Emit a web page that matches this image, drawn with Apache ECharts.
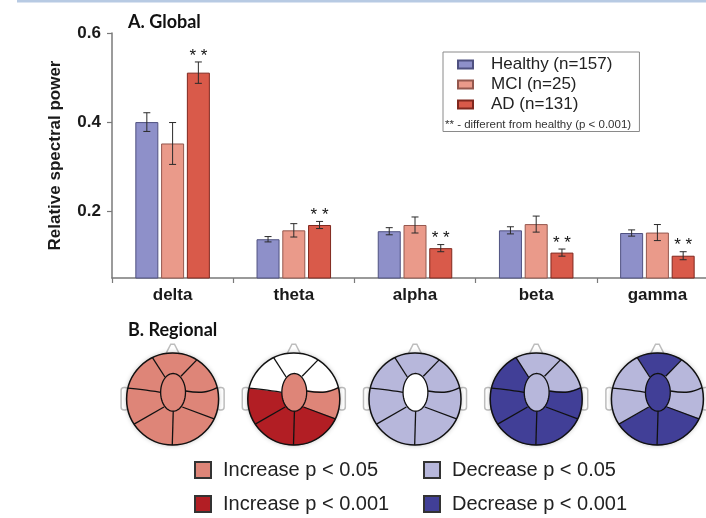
<!DOCTYPE html>
<html>
<head>
<meta charset="utf-8">
<script src="https://cdn.jsdelivr.net/npm/echarts@6/dist/echarts.min.js"></script>
<style>
  html, body { margin: 0; padding: 0; background: #ffffff; }
  #chart { width: 706px; height: 518px; }
</style>
</head>
<body>
<div id="chart"></div>
<script>
// ---------------- data ----------------
const bands = ['delta', 'theta', 'alpha', 'beta', 'gamma'];
const groupNames = ['Healthy (n=157)', 'MCI (n=25)', 'AD (n=131)'];
const healthy    = [0.400, 0.137, 0.155, 0.157, 0.151];
const healthyErr = [0.021, 0.006, 0.008, 0.008, 0.007];
const mci        = [0.352, 0.157, 0.169, 0.171, 0.152];
const mciErr     = [0.047, 0.015, 0.018, 0.018, 0.018];
const ad         = [0.511, 0.169, 0.117, 0.107, 0.100];
const adErr      = [0.024, 0.008, 0.008, 0.008, 0.009];
const adSig      = ['* *', '* *', '* *', '* *', '* *'];
const yTicks     = [0.2, 0.4, 0.6];

// regional significance, regions ordered:
// top, upperRight, right, lowerRight, lowerLeft, left, upperLeft, center
const regionNames = ['top', 'upperRight', 'right', 'lowerRight', 'lowerLeft', 'left', 'upperLeft', 'center'];
const regDelta = ['I1', 'I1', 'I1', 'I1', 'I1', 'I1', 'I1', 'I1'];
const regTheta = ['NS', 'NS', 'I1', 'I2', 'I2', 'I2', 'NS', 'I1'];
const regAlpha = ['D1', 'D1', 'D1', 'D1', 'D1', 'D1', 'D1', 'NS'];
const regBeta  = ['D1', 'D1', 'D2', 'D2', 'D2', 'D2', 'D2', 'D1'];
const regGamma = ['D2', 'D1', 'D1', 'D2', 'D2', 'D1', 'D1', 'D2'];
const sigNames = ['Increase p < 0.05', 'Increase p < 0.001', 'Decrease p < 0.05', 'Decrease p < 0.001'];
const sigCodes = ['I1', 'I2', 'D1', 'D2'];

// ---------------- styles ----------------
const groupColors  = ['#8e90c9', '#ea9a8a', '#d95a4a'];
const groupBorders = ['#4f5180', '#94584e', '#80281f'];
const sigColors = { I1: '#de8578', I2: '#b21e24', D1: '#b7b7db', D2: '#413f97', NS: '#ffffff' };
const FONT = 'Liberation Sans, Arial, sans-serif';
const BAR_W = 23;
const BAR_GAP = 0.12;

const regionalMaps = [regDelta, regTheta, regAlpha, regBeta, regGamma];
const groupVals = [healthy, mci, ad];
const groupErrs = [healthyErr, mciErr, adErr];

// ---------------- head geometry (unit circle, y down) ----------------
const ell = { cx: 0.01, cy: -0.145, rx: 0.27, ry: 0.41 };
const divLines = [
  [[-0.167, -0.478], [-0.438, -0.899]],                       // UL
  [[0.181, -0.493], [0.527, -0.850]],                         // UR
  [[0.283, -0.174], [0.681, -0.152], [0.969, -0.247]],        // R
  [[0.210, 0.174], [0.903, 0.430]],                           // LR
  [[0.014, 0.260], [-0.007, 1.0]],                            // B
  [[-0.188, 0.174], [-0.837, 0.547]],                         // LL
  [[-0.261, -0.145], [-0.659, -0.203], [-0.972, -0.235]]      // L
];
function angOf(p) { let a = Math.atan2(p[0], -p[1]) * 180 / Math.PI; if (a < 0) a += 360; return a; }

function headRender(params, api) {
  const idx = api.value(0);
  const c = api.coord([idx, 0]);
  const R = api.size([1, 1])[1];
  const map = regionalMaps[params.dataIndex];
  const P = (p) => [c[0] + p[0] * R, c[1] + p[1] * R];
  const children = [];
  // nose
  children.push({ type: 'polygon', shape: { points: [P([-0.15, -0.975]), P([-0.04, -1.19]), P([0.04, -1.19]), P([0.15, -0.975])] },
    style: { fill: '#fff', stroke: '#bdbdbd', lineWidth: 1.5 } });
  // ears
  children.push({ type: 'rect', shape: { x: c[0] - 1.12 * R, y: c[1] - 0.25 * R, width: 0.15 * R, height: 0.49 * R, r: 3 },
    style: { fill: '#fff', stroke: '#bdbdbd', lineWidth: 1.5 } });
  children.push({ type: 'rect', shape: { x: c[0] + 0.97 * R, y: c[1] - 0.25 * R, width: 0.15 * R, height: 0.49 * R, r: 3 },
    style: { fill: '#fff', stroke: '#bdbdbd', lineWidth: 1.5 } });
  // base circle with halo
  children.push({ type: 'circle', shape: { cx: c[0], cy: c[1], r: R },
    style: { fill: '#fff', shadowBlur: 5, shadowColor: 'rgba(0,0,0,0.3)' } });
  // sectors
  const ec = [ell.cx, ell.cy];
  for (let i = 0; i < divLines.length; i++) {
    const a = divLines[i], b = divLines[(i + 1) % divLines.length];
    let t0 = angOf(a[a.length - 1]), t1 = angOf(b[b.length - 1]);
    if (t1 < t0) t1 += 360;
    const pts = [P(ec)];
    a.forEach(p => pts.push(P(p)));
    for (let t = t0; t < t1; t += 2) {
      const r = t * Math.PI / 180;
      pts.push(P([Math.sin(r), -Math.cos(r)]));
    }
    b.slice().reverse().forEach(p => pts.push(P(p)));
    children.push({ type: 'polygon', shape: { points: pts }, style: { fill: sigColors[map[i]], stroke: sigColors[map[i]], lineWidth: 0.5 } });
  }
  // divider lines
  divLines.forEach(l => {
    children.push({ type: 'polyline', shape: { points: l.map(P), smooth: l.length > 2 ? 0.4 : 0 },
      style: { fill: null, stroke: '#111', lineWidth: 1.3 } });
  });
  // central ellipse
  const ep = [];
  for (let k = 0; k < 72; k++) {
    const r = k / 72 * Math.PI * 2;
    ep.push(P([ell.cx + ell.rx * Math.cos(r), ell.cy + ell.ry * Math.sin(r)]));
  }
  children.push({ type: 'polygon', shape: { points: ep }, style: { fill: sigColors[map[7]], stroke: '#111', lineWidth: 1.3 } });
  // outline
  children.push({ type: 'circle', shape: { cx: c[0], cy: c[1], r: R }, style: { fill: null, stroke: '#111', lineWidth: 1.5 } });
  return { type: 'group', children: children };
}

function errRender(g) {
  return function (params, api) {
    const i = api.value(0);
    const lo = api.coord([i, api.value(1)]);
    const hi = api.coord([i, api.value(2)]);
    const x = lo[0] + (g - 1) * BAR_W * (1 + BAR_GAP);
    const cap = 3.5;
    const st = { stroke: '#2a2a2a', lineWidth: 1 };
    const children = [
      { type: 'line', shape: { x1: x, y1: lo[1], x2: x, y2: hi[1] }, style: st },
      { type: 'line', shape: { x1: x - cap, y1: lo[1], x2: x + cap, y2: lo[1] }, style: st },
      { type: 'line', shape: { x1: x - cap, y1: hi[1], x2: x + cap, y2: hi[1] }, style: st }
    ];
    if (g === 2 && adSig[params.dataIndex]) {
      children.push({ type: 'text', style: { x: x, y: hi[1] - 6, text: adSig[params.dataIndex], textAlign: 'center', textVerticalAlign: 'middle',
        font: '17px ' + FONT, fill: '#111' } });
    }
    return { type: 'group', children: children };
  };
}

const series = [];
groupNames.forEach((n, g) => {
  series.push({
    name: n, type: 'bar', xAxisIndex: 0, yAxisIndex: 0,
    data: groupVals[g], barWidth: BAR_W, barGap: (BAR_GAP * 100) + '%',
    itemStyle: { color: groupColors[g], borderColor: groupBorders[g], borderWidth: 1 },
    emphasis: { disabled: true }
  });
});
groupNames.forEach((n, g) => {
  series.push({
    type: 'custom', xAxisIndex: 0, yAxisIndex: 0, z: 5,
    data: bands.map((b, i) => [i, groupVals[g][i] - groupErrs[g][i], groupVals[g][i] + groupErrs[g][i]]),
    encode: { x: 0, y: [1, 2] },
    renderItem: errRender(g), silent: true
  });
});
series.push({
  type: 'custom', xAxisIndex: 1, yAxisIndex: 1, silent: true,
  data: bands.map((b, i) => [i, 0]), encode: { x: 0, y: 1 },
  renderItem: headRender, clip: false
});
sigNames.forEach((n, k) => {
  series.push({ name: n, type: 'bar', xAxisIndex: 1, yAxisIndex: 1, data: [],
    itemStyle: { color: sigColors[sigCodes[k]], borderColor: '#333', borderWidth: 1 } });
});

const chart = echarts.init(document.getElementById('chart'), null, { renderer: 'canvas' });
chart.setOption({
  backgroundColor: '#ffffff',
  animation: false,
  title: [
    { text: 'A. Global', left: 123, top: 8, textStyle: { fontFamily: 'Lato, sans-serif', fontWeight: 'bold', fontSize: 18, color: '#111' } },
    { text: 'B. Regional', left: 123, top: 316, textStyle: { fontFamily: 'Lato, sans-serif', fontWeight: 'bold', fontSize: 18, color: '#111' } }
  ],
  grid: [
    { left: 112, top: 33, width: 606, height: 245, outerBoundsMode: 'none', containLabel: false },
    { left: 112, top: 353, width: 606, height: 92, outerBoundsMode: 'none', containLabel: false }
  ],
  xAxis: [
    { type: 'category', gridIndex: 0, data: bands,
      axisLine: { lineStyle: { color: '#7a7a7a', width: 1.5 } },
      axisTick: { show: true, length: 5, lineStyle: { color: '#7a7a7a', width: 1.2 } },
      axisLabel: { fontSize: 17, fontWeight: 'bold', fontFamily: FONT, color: '#1a1a1a', margin: 9 } },
    { type: 'category', gridIndex: 1, data: bands, show: false }
  ],
  yAxis: [
    { type: 'value', gridIndex: 0, min: 0.05, max: 0.6,
      axisLine: { show: true, lineStyle: { color: '#7a7a7a', width: 1.5 } },
      axisTick: { show: true, length: 5, customValues: yTicks, lineStyle: { color: '#7a7a7a', width: 1.2 } },
      axisLabel: { customValues: yTicks, formatter: v => v.toFixed(1), fontSize: 17, fontWeight: 'bold', fontFamily: FONT, color: '#1a1a1a', margin: 11 },
      splitLine: { show: false },
      name: 'Relative spectral power', nameLocation: 'middle', nameGap: 48,
      nameTextStyle: { fontSize: 17, fontWeight: 'bold', fontFamily: FONT, color: '#1a1a1a' } },
    { type: 'value', gridIndex: 1, min: -1, max: 1, show: false }
  ],
  legend: [
    { data: groupNames, left: 443, top: 52, orient: 'vertical', icon: 'rect', itemWidth: 15, itemHeight: 8, itemGap: 3,
      padding: [4, 27, 18.5, 14], borderColor: '#8a8a8a', borderWidth: 1, selectedMode: false,
      textStyle: { fontSize: 17, fontFamily: FONT, color: '#222', lineHeight: 17, padding: [0, 0, 0, 13] } },
    { data: [sigNames[0], sigNames[1]], left: 194, top: 460, orient: 'vertical', icon: 'rect', itemWidth: 16, itemHeight: 16, itemGap: 14,
      padding: 0, selectedMode: false,
      textStyle: { fontSize: 20, fontFamily: FONT, color: '#222', padding: [0, 0, 0, 7] } },
    { data: [sigNames[2], sigNames[3]], left: 423, top: 460, orient: 'vertical', icon: 'rect', itemWidth: 16, itemHeight: 16, itemGap: 14,
      padding: 0, selectedMode: false,
      textStyle: { fontSize: 20, fontFamily: FONT, color: '#222', padding: [0, 0, 0, 7] } }
  ],
  graphic: [
    { type: 'rect', left: 17, top: 0, shape: { width: 689, height: 2.5 }, style: { fill: '#b7cae3' }, silent: true },
    { type: 'text', left: 445, top: 119, style: { text: '** - different from healthy (p < 0.001)', font: '11.5px ' + FONT, fill: '#333' }, silent: true }
  ],
  series: series
});
</script>
</body>
</html>
